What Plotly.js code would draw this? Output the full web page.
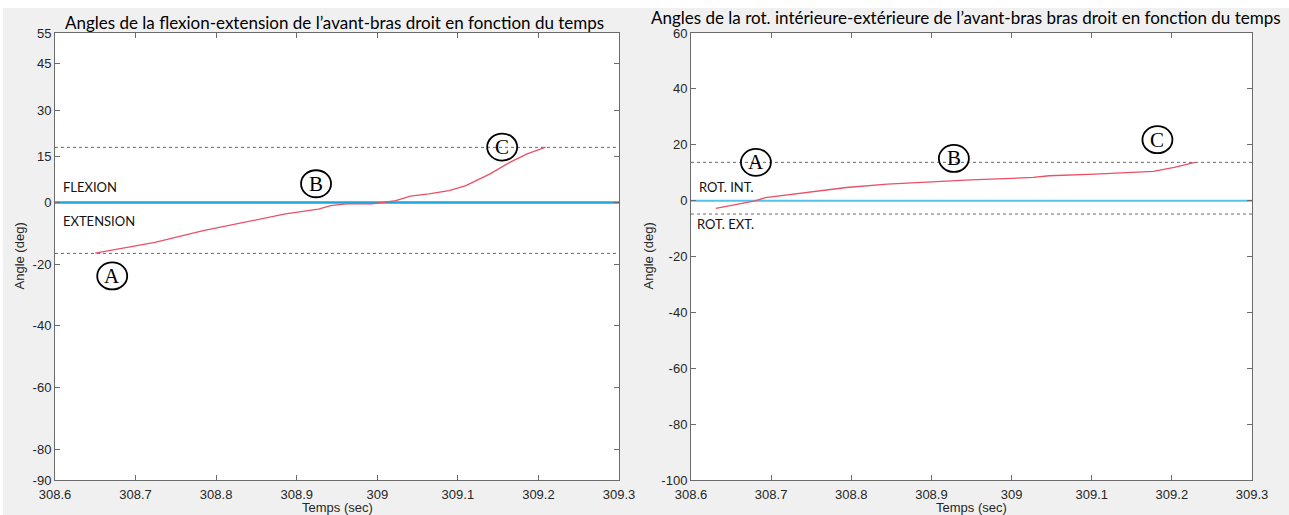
<!DOCTYPE html>
<html>
<head>
<meta charset="utf-8">
<script src="https://cdn.plot.ly/plotly-3.0.1.min.js"></script>
<style>
html,body{margin:0;padding:0;background:#ffffff;width:1289px;height:515px;overflow:hidden;}
#chart{position:absolute;left:0;top:0;width:1289px;height:515px;}
</style>
</head>
<body>
<div id="chart"></div>
<script>
// ---- Data ----
const flexTime = [308.650, 308.724, 308.784, 308.845, 308.886, 308.927, 308.942, 308.962, 308.993, 309.023, 309.041, 309.064, 309.089, 309.110, 309.140, 309.165, 309.186, 309.209];
const flexAngle = [-16.4, -12.9, -9.1, -5.9, -3.7, -2.1, -1.0, -0.4, -0.4, 0.65, 2.1, 2.8, 3.9, 5.5, 9.3, 13.1, 15.8, 18.0];
const flexRefLines = [17.9, -16.5];

const rotTime = [308.631, 308.680, 308.693, 308.742, 308.794, 308.845, 308.897, 308.949, 309.027, 309.047, 309.104, 309.146, 309.177, 309.203, 309.229];
const rotAngle = [-2.8, -0.1, 1.1, 2.9, 4.7, 5.9, 6.7, 7.4, 8.3, 8.9, 9.5, 10.1, 10.5, 11.9, 13.7];
const rotRefLines = [13.7, -4.8];

const xTicks = [308.6, 308.7, 308.8, 308.9, 309, 309.1, 309.2, 309.3];
const xTickText = ['308.6', '308.7', '308.8', '308.9', '309', '309.1', '309.2', '309.3'];
const flexYTicks = [55, 45, 30, 15, 0, -20, -40, -60, -80, -90];
const flexYTickText = ['55', '45', '30', '15', '0', '-20', '-40', '-60', '-80', '-90'];
const rotYTicks = [60, 40, 20, 0, -20, -40, -60, -80, -100];
const rotYTickText = ['60', '40', '20', '0', '-20', '-40', '-60', '-80', '-100'];
const xRange = [308.6, 309.3];
const flexYRange = [-90, 55];
const rotYRange = [-100, 60];

const flexMarkers = {labels: ['A', 'B', 'C'], x: [308.671, 308.924, 309.155], y: [-23.8, 6.1, 18.0]};
const rotMarkers = {labels: ['A', 'B', 'C'], x: [308.681, 308.928, 309.182], y: [13.7, 15.1, 21.8]};

const flexZoneLabels = {text: ['FLEXION', 'EXTENSION'], x: [308.607, 308.607], y: [5.0, -6.1]};
const rotZoneLabels = {text: ['ROT. INT.', 'ROT. EXT.'], x: [308.607, 308.605], y: [4.7, -8.4]};

const titles = [
  "Angles de la flexion-extension de l\u2019avant-bras droit en fonction du temps",
  "Angles de la rot. int\u00e9rieure-ext\u00e9rieure de l\u2019avant-bras bras droit en fonction du temps"
];
const xTitle = 'Temps (sec)';
const yTitle = 'Angle (deg)';

// ---- Styles ----
const axisColor = '#6b6b6b';
const tickFont = {family: 'Liberation Sans, Arial, sans-serif', size: 13, color: '#262626'};
const redColor = '#ea5066';

function hline(yv, xa, ya, color, width, dash) {
  return {type: 'scatter', mode: 'lines', x: xRange, y: [yv, yv], xaxis: xa, yaxis: ya,
    line: {color: color, width: width, dash: dash}, hoverinfo: 'skip', showlegend: false};
}

const traces = [];
flexRefLines.forEach(v => traces.push(hline(v, 'x', 'y', '#6a6a6a', 1, 'dot')));
traces.push(hline(0, 'x', 'y', '#1fa5de', 2.5, 'solid'));
traces.push({type: 'scatter', mode: 'lines', x: flexTime, y: flexAngle, xaxis: 'x', yaxis: 'y',
  line: {color: redColor, width: 1.3}, showlegend: false});

rotRefLines.forEach(v => traces.push(hline(v, 'x2', 'y2', '#6a6a6a', 1, 'dot')));
traces.push(hline(0, 'x2', 'y2', '#55c3e8', 2, 'solid'));
traces.push({type: 'scatter', mode: 'lines', x: rotTime, y: rotAngle, xaxis: 'x2', yaxis: 'y2',
  line: {color: redColor, width: 1.3}, showlegend: false});

function xAxis(domain, anchor) {
  return {domain: domain, anchor: anchor, range: xRange, tickmode: 'array', tickvals: xTicks, ticktext: xTickText,
    ticks: 'inside', ticklen: 5, tickcolor: axisColor, tickwidth: 1, showline: true, linecolor: axisColor, linewidth: 1,
    mirror: 'ticks', showgrid: false, zeroline: false, tickfont: tickFont, ticklabelstandoff: 2, fixedrange: true};
}
function yAxis(range, ticks, text, anchor) {
  return {range: range, tickmode: 'array', tickvals: ticks, ticktext: text, anchor: anchor, domain: [0, 1],
    ticks: 'inside', ticklen: 5, tickcolor: axisColor, tickwidth: 1, showline: true, linecolor: axisColor, linewidth: 1,
    mirror: 'ticks', showgrid: false, zeroline: false, tickfont: tickFont, fixedrange: true};
}

const W = 1289, T = 33, PH = 447;
const annotations = [];
const shapes = [];
// white strips of the original screenshots (top and left edge)
shapes.push({type: 'rect', xref: 'paper', yref: 'paper', x0: 0, x1: 1, y0: 1 + (T - 8) / PH, y1: 1 + T / PH,
  fillcolor: '#ffffff', line: {width: 0}, layer: 'below'});
shapes.push({type: 'rect', xref: 'paper', yref: 'paper', x0: 0, x1: 3 / W, y0: -35 / PH, y1: 1 + T / PH,
  fillcolor: '#ffffff', line: {width: 0}, layer: 'below'});
// titles
annotations.push({text: titles[0], xref: 'paper', yref: 'paper', x: 334.5 / W, y: 1 + (T - 22.5) / PH, xanchor: 'center', yanchor: 'middle',
  showarrow: false, font: {family: 'Lato, sans-serif', size: 17, color: '#000'}});
annotations.push({text: titles[1], xref: 'paper', yref: 'paper', x: 966 / W, y: 1 + (T - 18) / PH, xanchor: 'center', yanchor: 'middle',
  showarrow: false, font: {family: 'Lato, sans-serif', size: 17, color: '#000'}});
// axis titles
[19, 648].forEach(px => {
  annotations.push({text: yTitle, textangle: -90, xref: 'paper', yref: 'paper', x: px / W, y: 0.5, xanchor: 'center', yanchor: 'middle',
    showarrow: false, font: {family: 'Liberation Sans, Arial, sans-serif', size: 13, color: '#262626'}});
});
['x', 'x2'].forEach(xa => {
  annotations.push({text: xTitle, xref: xa + ' domain', yref: 'paper', x: 0.5, y: 0, yshift: -27, xanchor: 'center', yanchor: 'middle',
    showarrow: false, font: {family: 'Liberation Sans, Arial, sans-serif', size: 13, color: '#262626'}});
});
// zone labels
function addZone(z, xa, ya) {
  z.text.forEach((t, i) => annotations.push({text: t, xref: xa, yref: ya, x: z.x[i], y: z.y[i], xanchor: 'left', yanchor: 'middle',
    showarrow: false, font: {family: 'Lato, sans-serif', size: 13, color: '#111'}}));
}
addZone(flexZoneLabels, 'x', 'y');
addZone(rotZoneLabels, 'x2', 'y2');
// circled markers
function addMarkers(m, xa, ya) {
  m.labels.forEach((l, i) => {
    shapes.push({type: 'circle', xref: xa, yref: ya, xsizemode: 'pixel', ysizemode: 'pixel', xanchor: m.x[i], yanchor: m.y[i],
      x0: -15, x1: 15, y0: -13.5, y1: 13.5, line: {color: '#000', width: 1.8}, fillcolor: 'rgba(0,0,0,0)'});
    annotations.push({text: l, xref: xa, yref: ya, x: m.x[i], y: m.y[i], xanchor: 'center', yanchor: 'middle', showarrow: false,
      font: {family: 'Liberation Serif, DejaVu Serif, serif', size: 21, color: '#000'}});
  });
}
addMarkers(flexMarkers, 'x', 'y');
addMarkers(rotMarkers, 'x2', 'y2');

const layout = {
  width: W, height: 515,
  margin: {l: 0, r: 0, t: T, b: 35, pad: 0},
  paper_bgcolor: '#f0f0f0', plot_bgcolor: '#ffffff',
  showlegend: false,
  xaxis: xAxis([55 / W, 619 / W], 'y'),
  yaxis: yAxis(flexYRange, flexYTicks, flexYTickText, 'x'),
  xaxis2: xAxis([691 / W, 1252 / W], 'y2'),
  yaxis2: yAxis(rotYRange, rotYTicks, rotYTickText, 'x2'),
  annotations: annotations,
  shapes: shapes
};

Plotly.newPlot('chart', traces, layout, {displayModeBar: false, staticPlot: true});
</script>
</body>
</html>
